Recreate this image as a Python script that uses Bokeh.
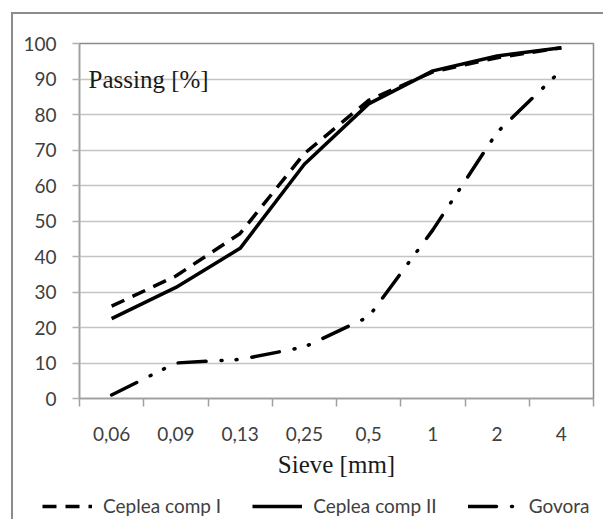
from bokeh.plotting import figure
from bokeh.models import FixedTicker, Range1d, Legend, LegendItem, Label
from bokeh.embed import file_html
from bokeh.resources import INLINE

# ---- data ----
sieve = ["0,06", "0,09", "0,13", "0,25", "0,5", "1", "2", "4"]
comp_I = [26, 34.5, 46.5, 69, 84, 92, 96, 98.8]
comp_II = [22.5, 31.3, 42.3, 66, 83, 92.3, 96.5, 98.8]
govora = [1, 10, 11, 14.5, 23, 47.5, 75, 92.5]
y_ticks = [0, 10, 20, 30, 40, 50, 60, 70, 80, 90, 100]
series_names = ["Ceplea comp I", "Ceplea comp II", "Govora"]

xpos = list(range(1, len(sieve) + 1))
bounds = [i + 0.5 for i in range(len(sieve) + 1)]

TICK_FONT = "Lato"
SERIF = "Liberation Serif"
GREY_TXT = "#404040"
FRAME = "2px solid #8c8c8c"
STYLES = [dict(line_color="black", line_width=3.5, line_dash="14 9"),
          dict(line_color="black", line_width=3.5, line_join="round"),
          dict(line_color="black", line_width=3.5, line_dash="28 15 1 14 1 15",
               line_cap="round")]

p = figure(width=592, height=474, output_backend="svg", toolbar_location=None,
           x_range=Range1d(0.5, len(sieve) + 0.5), y_range=Range1d(0, 100),
           min_border_left=66, min_border_right=12, min_border_top=29,
           min_border_bottom=90)
p.margin = (12, 0, 0, 11)
p.styles = {"border-left": FRAME, "border-top": FRAME}
p.outline_line_color = "#8c8c8c"
p.outline_line_width = 1.5
p.background_fill_color = "white"
p.border_fill_color = "white"

for ys, st in zip([comp_I, comp_II, govora], STYLES):
    p.line(xpos, ys, **st)

# x axis
xa = p.xaxis[0]
xa.ticker = FixedTicker(ticks=xpos, minor_ticks=bounds)
xa.major_label_overrides = {i: s for i, s in zip(xpos, sieve)}
xa.major_tick_out = 0
xa.major_tick_in = 0
xa.minor_tick_out = 8
xa.minor_tick_in = 0
xa.minor_tick_line_color = "#a0a0a0"
xa.minor_tick_line_width = 1.5
xa.axis_line_color = "#a0a0a0"
xa.axis_line_width = 1.5
xa.major_label_text_font = TICK_FONT
xa.major_label_text_font_size = "19px"
xa.major_label_text_color = GREY_TXT
xa.major_label_standoff = 20
xa.axis_label = "Sieve [mm]"
xa.axis_label_text_font = SERIF
xa.axis_label_text_font_size = "25px"
xa.axis_label_text_font_style = "normal"
xa.axis_label_text_color = "#1a1a1a"
xa.axis_label_standoff = 7

# y axis
ya = p.yaxis[0]
ya.ticker = FixedTicker(ticks=y_ticks)
ya.major_tick_out = 7
ya.major_tick_in = 0
ya.major_tick_line_color = "#b0b0b0"
ya.major_tick_line_width = 1.5
ya.minor_tick_line_color = None
ya.axis_line_color = "#a0a0a0"
ya.axis_line_width = 1.5
ya.major_label_text_font = TICK_FONT
ya.major_label_text_font_size = "19px"
ya.major_label_text_color = GREY_TXT
ya.major_label_standoff = 16

p.xgrid.visible = False
p.ygrid.grid_line_color = "#c4c4c4"
p.ygrid.grid_line_width = 1.5

p.add_layout(Label(x=0.64, y=90, text="Passing [%]", text_font=SERIF,
                   text_font_size="25px", text_color="#1a1a1a",
                   text_baseline="alphabetic"))

# legend strip below the chart (separate root; its renderers hold no visible data,
# they only lend their line styles to the legend samples)
lf = figure(width=592, height=33, output_backend="svg", toolbar_location=None,
            x_range=Range1d(0, 1), y_range=Range1d(0, 1), min_border=0,
            x_axis_location=None, y_axis_location=None)
lf.margin = (0, 0, 0, 11)
lf.styles = {"border-left": FRAME}
lf.title.visible = False
lf.grid.visible = False
lf.outline_line_color = None
lf.background_fill_color = "white"
lf.border_fill_color = "white"
nan = float("nan")
items = []
for name, st in zip(series_names, STYLES):
    r = lf.line(x=[nan], y=[nan], **st)
    items.append(LegendItem(label=name, renderers=[r]))

legend = Legend(items=items, orientation="horizontal", location=(29, 2),
                glyph_width=50, label_standoff=11, spacing=31, padding=0, margin=0,
                border_line_color=None, background_fill_alpha=0,
                label_text_font=TICK_FONT, label_text_font_size="19px",
                label_text_color=GREY_TXT)
lf.add_layout(legend)

open("out.html", "w").write(file_html([p, lf], INLINE))
